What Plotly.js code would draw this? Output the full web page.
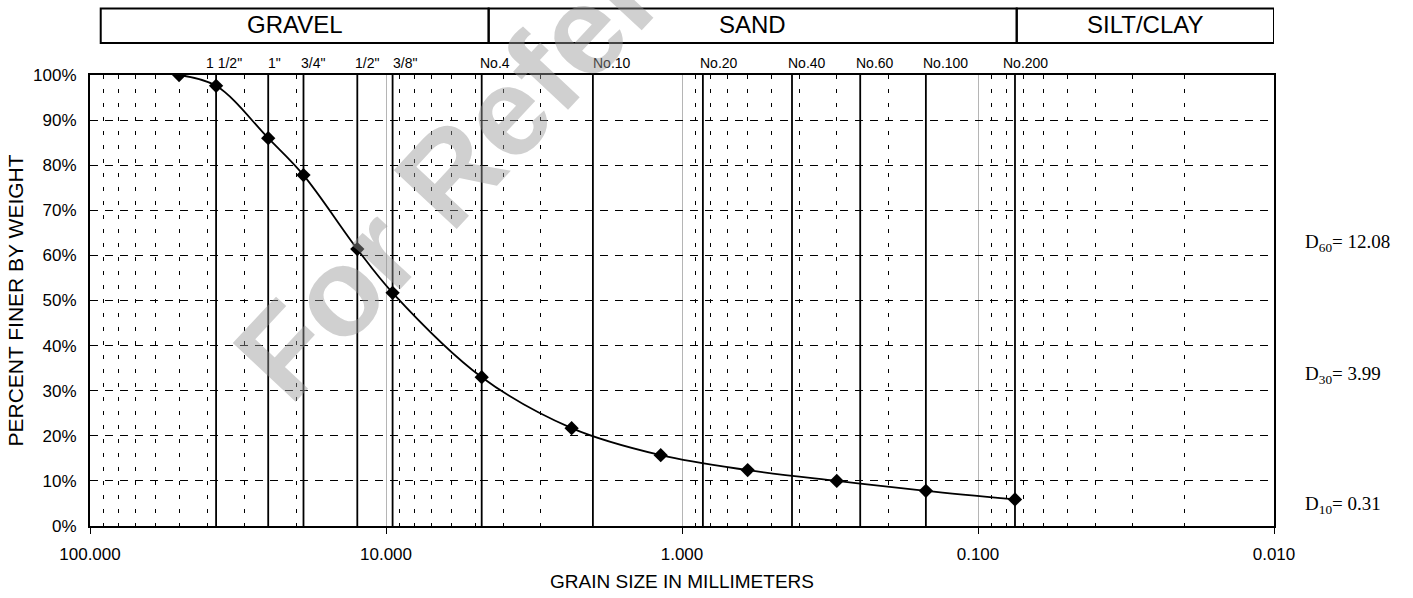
<!DOCTYPE html>
<html><head><meta charset="utf-8">
<script src="https://cdn.plot.ly/plotly-3.0.1.min.js"></script>
<style>html,body{margin:0;padding:0;background:#fff;} #chart{width:1413px;height:598px;}</style>
</head><body><div id="chart"></div>
<script>
// ---- data ----
const grainSize    = [50, 37.5, 25, 19, 12.5, 9.5, 4.75, 2.36, 1.18, 0.6, 0.3, 0.15, 0.075];
const percentFiner = [100, 97.6, 86.0, 77.8, 61.4, 51.7, 33.0, 21.7, 15.7, 12.4, 10.0, 7.8, 5.9];

const sieveNames = ['1 1/2"', '1"', '3/4"', '1/2"', '3/8"', 'No.4', 'No.10', 'No.20', 'No.40', 'No.60', 'No.100', 'No.200'];
const sieveSizes = [37.5, 25, 19, 12.5, 9.5, 4.75, 2.0, 0.85, 0.425, 0.25, 0.15, 0.075];

const xTickVals = [100, 10, 1, 0.1, 0.01];
const xTickText = ['100.000', '10.000', '1.000', '0.100', '0.010'];
const minorGridVals = [90, 80, 70, 60, 50, 40, 30, 20,
                       9, 8, 7, 6, 5, 4, 3, 2,
                       0.9, 0.8, 0.7, 0.6, 0.5, 0.4, 0.3, 0.2,
                       0.09, 0.08, 0.07, 0.06, 0.05, 0.04, 0.03, 0.02];
const yTickVals = [0, 10, 20, 30, 40, 50, 60, 70, 80, 90, 100];
const yTickText = ['0%', '10%', '20%', '30%', '40%', '50%', '60%', '70%', '80%', '90%', '100%'];

const soilClasses = ['GRAVEL', 'SAND', 'SILT/CLAY'];
const classEdges  = [92, 4.5, 0.074, 0.01];

const dLabels = ['D<sub>60</sub>= 12.08', 'D<sub>30</sub>= 3.99', 'D<sub>10</sub>= 0.31'];

// ---- styling / placement (not data) ----
const sieveLabelShift = [-12, -2, -4, -4, -2, -4, -2, -5, -6, -6, -5, -14];
const dLabelY = [62.7, 33.5, 4.7];
const SANS = 'Liberation Sans, Arial, sans-serif';
const SERIF = 'Liberation Serif, Times New Roman, serif';

// sieve vertical lines
const sx = [], sy = [];
sieveSizes.forEach(s => { sx.push(s, s, null); sy.push(0, 100, null); });

const traces = [
  {x: sx, y: sy, type: 'scatter', mode: 'lines', line: {color: '#000', width: 1.8},
   hoverinfo: 'skip', showlegend: false},
  {x: grainSize, y: percentFiner, type: 'scatter', mode: 'lines+markers',
   line: {color: '#000', width: 1.8, shape: 'spline', smoothing: 1},
   marker: {symbol: 'diamond', size: 11, color: '#000'}, showlegend: false}
];

const shapes = [];
const annotations = [];
for (let i = 0; i < soilClasses.length; i++) {
  shapes.push({type: 'rect', xref: 'x', yref: 'paper',
    x0: classEdges[i], x1: classEdges[i + 1], y0: 1.071, y1: 1.1475,
    line: {color: '#000', width: 2}, fillcolor: 'rgba(0,0,0,0)'});
  annotations.push({xref: 'x', yref: 'paper',
    x: (Math.log10(classEdges[i]) + Math.log10(classEdges[i + 1])) / 2, y: 1.111,
    text: soilClasses[i], showarrow: false, xanchor: 'center', yanchor: 'middle',
    font: {family: SANS, size: 24, color: '#000'}});
}
sieveNames.forEach((n, i) => {
  annotations.push({xref: 'x', yref: 'paper', x: Math.log10(sieveSizes[i]), y: 1.0266,
    text: n, showarrow: false, xanchor: 'left', yanchor: 'middle', xshift: sieveLabelShift[i],
    font: {family: SANS, size: 14, color: '#000'}});
});
dLabels.forEach((t, i) => {
  annotations.push({xref: 'paper', yref: 'y', x: 1.0245, y: dLabelY[i], text: t,
    showarrow: false, xanchor: 'left', yanchor: 'middle',
    font: {family: SERIF, size: 19, color: '#000'}});
});
// watermark
annotations.push({xref: 'paper', yref: 'paper', x: 0.384, y: 1.011, text: 'For Reference',
  showarrow: false, xanchor: 'center', yanchor: 'middle', textangle: -47,
  font: {family: SANS, size: 125, weight: 'bold', color: 'rgba(150,150,150,0.45)'}});

const layout = {
  width: 1413, height: 598,
  margin: {l: 90, r: 139, t: 75, b: 72},
  paper_bgcolor: '#fff', plot_bgcolor: '#fff',
  showlegend: false,
  xaxis: {
    type: 'log', range: [2, -2],
    tickmode: 'array', tickvals: xTickVals, ticktext: xTickText,
    ticks: 'outside', ticklen: 6, tickcolor: '#000', tickwidth: 1,
    ticklabelstandoff: 6,
    tickfont: {family: SANS, size: 17, color: '#000'},
    showgrid: true, gridcolor: '#b5b5b5', gridwidth: 1,
    minor: {tickmode: 'array', tickvals: minorGridVals, showgrid: true,
            gridcolor: '#000', gridwidth: 1, griddash: '4px,10px', ticks: ''},
    showline: true, mirror: true, linecolor: '#000', linewidth: 2,
    zeroline: false,
    title: {text: 'GRAIN SIZE IN MILLIMETERS', standoff: 11,
            font: {family: SANS, size: 19, color: '#000'}}
  },
  yaxis: {
    range: [0, 100], tickmode: 'array', tickvals: yTickVals, ticktext: yTickText,
    ticks: 'inside', ticklen: 5, tickcolor: '#000',
    ticklabelstandoff: 8,
    tickfont: {family: SANS, size: 17, color: '#000'},
    showgrid: true, gridcolor: '#000', gridwidth: 1, griddash: '8px,7px',
    showline: true, mirror: true, linecolor: '#000', linewidth: 2,
    zeroline: false,
    title: {text: 'PERCENT FINER BY WEIGHT', standoff: 4,
            font: {family: SANS, size: 21, color: '#000'}}
  },
  shapes: shapes,
  annotations: annotations
};

Plotly.newPlot('chart', traces, layout, {displayModeBar: false, staticPlot: true});
</script>
</body></html>
